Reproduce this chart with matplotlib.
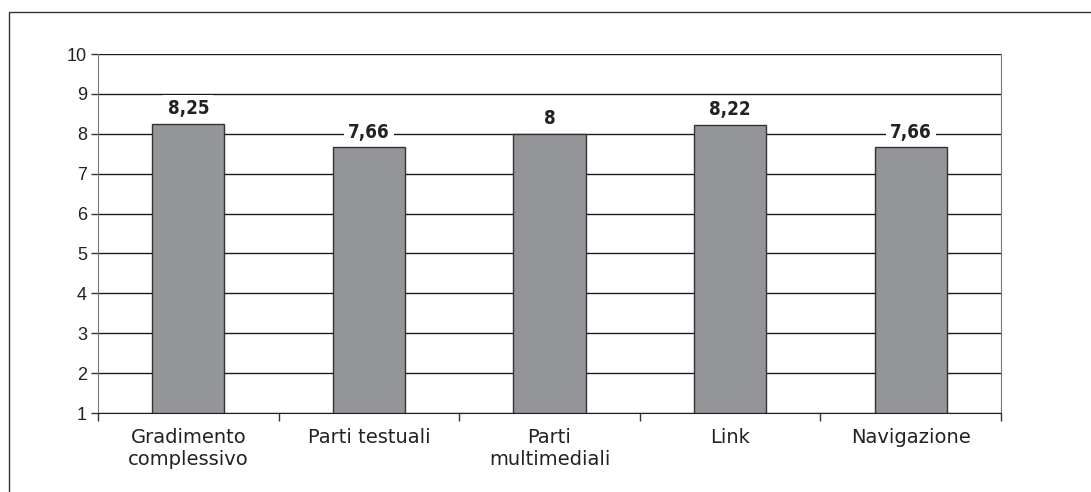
import numpy as np
import matplotlib.pyplot as plt
from matplotlib.patches import Rectangle

categories = ["Gradimento\ncomplessivo", "Parti testuali", "Parti\nmultimediali", "Link", "Navigazione"]
values = [8.25, 7.66, 8, 8.22, 7.66]
value_labels = ["8,25", "7,66", "8", "8,22", "7,66"]
yticks = [1, 2, 3, 4, 5, 6, 7, 8, 9, 10]

plt.rcParams['font.family'] = ['Liberation Sans', 'DejaVu Sans']

fig = plt.figure(figsize=(10.91, 4.92), dpi=100)
# outer frame, open on the right and bottom
fig.patches.append(Rectangle((9 / 1091, -0.1), 1.2, 0.1 + 480 / 492, transform=fig.transFigure,
                             fill=False, edgecolor="#333333", linewidth=1.0))

ax = fig.add_axes([98 / 1091, 1 - 413 / 492, 903 / 1091, 359 / 492])
x = np.arange(len(values))
base = 1
ax.bar(x, np.array(values) - base, bottom=base, width=0.4, color="#939598",
       edgecolor="#333333", linewidth=1.0, zorder=3)

ax.set_xlim(-0.5, len(values) - 0.5)
ax.set_ylim(1, 10)
ax.set_yticks(yticks)
ax.set_yticklabels([str(t) for t in yticks], fontsize=13, color="#222222")
ax.yaxis.grid(True, color="#1a1a1a", linewidth=1.0, zorder=1)

ax.set_xticks(x)
ax.set_xticklabels(categories, fontsize=14, family="DejaVu Sans", color="#222222", linespacing=1.2)
ax.tick_params(axis="x", length=0, pad=11)
ax.set_xticks(np.arange(len(values) + 1) - 0.5, minor=True)
ax.tick_params(axis="x", which="minor", length=6, color="#333333", width=1)
ax.tick_params(axis="y", length=5, color="#333333", width=1, pad=3)

for side in ["left", "right"]:
    ax.spines[side].set_color("#777777")
ax.spines["top"].set_visible(False)
ax.spines["bottom"].set_color("#222222")

for xi, v, lab in zip(x, values, value_labels):
    ax.text(xi, v + 0.14, lab, ha="center", va="bottom", fontsize=13.5, fontweight="bold",
            family="DejaVu Sans", fontstretch="condensed", color="#222222", zorder=4,
            bbox=dict(facecolor="white", edgecolor="none", pad=3))

fig.savefig("out.png", dpi=100)
